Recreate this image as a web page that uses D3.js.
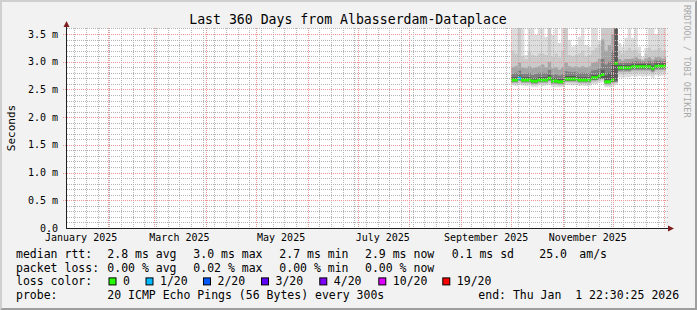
<!DOCTYPE html>
<html>
<head>
<meta charset="utf-8">
<script src="https://cdn.jsdelivr.net/npm/d3@7"></script>
<style>
html, body { margin: 0; padding: 0; background: #f2f2f2; }
svg { display: block; }
text { font-family: "DejaVu Sans Mono", monospace; white-space: pre; }
</style>
</head>
<body>
<div id="chart"></div>
<script>
// ---- data (values in milliseconds) ----
const title = "Last 360 Days from Albasserdam-Dataplace";
const rangeStart = new Date(2025, 0, 6, 22, 30, 25);
const rangeEnd = new Date(2026, 0, 1, 22, 30, 25);
const dataStart = new Date(2025, 9, 1);   // first sample bin
const binDays = 2;                        // each bin covers two days
const yMax = 3.608;
const yMajor = [0.5, 1.0, 1.5, 2.0, 2.5, 3.0, 3.5];
const yLabels = ["0.0", "0.5 m", "1.0 m", "1.5 m", "2.0 m", "2.5 m", "3.0 m", "3.5 m"];
const xLabelMonths = ["January 2025", "March 2025", "May 2025", "July 2025", "September 2025", "November 2025"];

const median = [2.67, 2.67, 2.70, 2.67, 2.67, 2.67, 2.65, 2.65, 2.67, 2.67, 2.67, 2.70, 2.65, 2.65, 2.64, 2.64,
  2.69, 2.69, 2.69, 2.69, 2.67, 2.67, 2.67, 2.67, 2.71, 2.71, 2.74, 2.77, 2.64, 2.64, 2.67, 2.97,
  2.89, 2.89, 2.89, 2.89, 2.91, 2.91, 2.91, 2.91, 2.91, 2.91, 2.88, 2.92, 2.92, 2.92, 2.92];
// sorted pings of the 20 per round: lowest ... highest
const ping1 = [2.57, 2.56, 2.58, 2.57, 2.56, 2.57, 2.55, 2.55, 2.57, 2.56, 2.57, 2.58, 2.55, 2.55, 2.54, 2.55,
  2.58, 2.58, 2.57, 2.58, 2.56, 2.57, 2.56, 2.57, 2.60, 2.60, 2.62, 2.63, 2.54, 2.54, 2.56, 2.58,
  2.72, 2.71, 2.72, 2.72, 2.74, 2.73, 2.74, 2.73, 2.74, 2.74, 2.71, 2.75, 2.74, 2.75, 2.75];
const ping2 = [2.60, 2.60, 2.62, 2.60, 2.60, 2.60, 2.58, 2.58, 2.60, 2.60, 2.60, 2.62, 2.58, 2.58, 2.57, 2.57,
  2.62, 2.62, 2.61, 2.62, 2.60, 2.60, 2.60, 2.60, 2.63, 2.63, 2.66, 2.67, 2.57, 2.57, 2.59, 2.61,
  2.78, 2.77, 2.78, 2.78, 2.80, 2.79, 2.80, 2.79, 2.80, 2.80, 2.77, 2.81, 2.80, 2.81, 2.81];
const ping4 = [2.62, 2.62, 2.65, 2.62, 2.62, 2.62, 2.60, 2.60, 2.62, 2.62, 2.62, 2.65, 2.60, 2.60, 2.59, 2.59,
  2.64, 2.64, 2.64, 2.64, 2.62, 2.62, 2.62, 2.62, 2.66, 2.66, 2.68, 2.69, 2.59, 2.59, 2.62, 2.63,
  2.82, 2.82, 2.82, 2.82, 2.84, 2.84, 2.84, 2.84, 2.84, 2.84, 2.81, 2.85, 2.85, 2.85, 2.85];
const ping6 = [2.64, 2.64, 2.66, 2.64, 2.64, 2.64, 2.62, 2.62, 2.64, 2.64, 2.64, 2.66, 2.62, 2.62, 2.61, 2.61,
  2.65, 2.65, 2.65, 2.65, 2.64, 2.64, 2.64, 2.64, 2.67, 2.67, 2.69, 2.70, 2.61, 2.61, 2.63, 2.64,
  2.84, 2.84, 2.84, 2.84, 2.86, 2.86, 2.86, 2.86, 2.86, 2.86, 2.83, 2.87, 2.87, 2.87, 2.87];
const ping8 = [2.65, 2.65, 2.67, 2.65, 2.65, 2.65, 2.63, 2.63, 2.65, 2.65, 2.65, 2.67, 2.63, 2.63, 2.62, 2.62,
  2.66, 2.66, 2.66, 2.66, 2.65, 2.65, 2.65, 2.65, 2.68, 2.68, 2.70, 2.70, 2.62, 2.62, 2.64, 2.66,
  2.86, 2.86, 2.86, 2.86, 2.88, 2.88, 2.88, 2.88, 2.88, 2.88, 2.85, 2.89, 2.89, 2.89, 2.89];
const ping13 = [2.72, 2.72, 2.75, 2.72, 2.72, 2.72, 2.70, 2.70, 2.72, 2.72, 2.72, 2.76, 2.70, 2.70, 2.69, 2.69,
  2.74, 2.74, 2.74, 2.74, 2.72, 2.72, 2.72, 2.72, 2.76, 2.76, 2.79, 2.85, 2.75, 2.80, 2.95, 3.90,
  2.94, 2.94, 2.94, 2.94, 2.96, 2.96, 2.96, 2.96, 2.96, 2.96, 2.93, 2.97, 2.97, 2.97, 2.97];
const ping15 = [2.78, 2.80, 2.84, 2.78, 2.78, 2.80, 2.76, 2.78, 2.80, 2.80, 2.79, 2.85, 2.76, 2.77, 2.75, 2.77,
  2.83, 2.82, 2.81, 2.82, 2.79, 2.80, 2.79, 2.80, 2.84, 2.85, 2.88, 3.05, 2.95, 3.00, 3.20, 3.90,
  2.98, 2.97, 2.98, 2.98, 3.00, 3.01, 3.00, 2.99, 3.00, 3.01, 2.98, 3.02, 3.02, 3.01, 3.02];
const ping17 = [2.90, 2.92, 2.98, 2.90, 2.88, 2.92, 2.88, 2.90, 2.92, 2.95, 2.90, 3.00, 2.88, 2.90, 2.86, 2.90,
  2.98, 2.92, 2.90, 2.92, 2.90, 2.92, 2.90, 2.92, 2.98, 3.00, 3.05, 3.40, 3.20, 3.30, 3.50, 3.90,
  3.05, 3.02, 3.05, 3.05, 3.06, 3.08, 3.05, 3.02, 3.06, 3.08, 3.04, 3.08, 3.08, 3.06, 3.08];
const ping19 = [3.20, 3.15, 3.90, 3.10, 3.05, 3.18, 3.12, 3.10, 3.15, 3.15, 3.12, 3.90, 3.10, 3.15, 3.08, 3.20,
  3.90, 3.12, 3.10, 3.12, 3.15, 3.20, 3.10, 3.12, 3.20, 3.25, 3.30, 3.90, 3.90, 3.90, 3.90, 3.90,
  3.20, 3.15, 3.20, 3.25, 3.20, 3.22, 3.15, 3.05, 3.15, 3.25, 3.20, 3.22, 3.25, 3.20, 3.22];
const ping20 = [3.90, 3.90, 3.90, 3.90, 3.12, 3.90, 3.90, 3.48, 3.90, 3.90, 3.45, 3.90, 3.48, 3.90, 3.34, 3.90,
  3.90, 3.39, 3.27, 3.30, 3.45, 3.90, 3.30, 3.27, 3.90, 3.90, 3.39, 3.90, 3.90, 3.90, 3.90, 3.90,
  3.34, 3.27, 3.43, 3.90, 3.43, 3.90, 3.27, 3.09, 3.25, 3.90, 3.90, 3.50, 3.90, 3.90, 3.90];
const lossCount = [0, 0, 1, 0, 0, 0, 0, 0, 0, 0, 0, 0, 0, 0, 0, 0, 0, 0, 0, 0, 0, 0, 0, 0,
  0, 0, 0, 0, 0, 0, 0, 0, 0, 0, 0, 0, 0, 0, 0, 0, 0, 0, 0, 0, 0, 0, 0];

const lossLevels = [0, 1, 2, 3, 4, 10, 19];
const lossLabels = ["0", "1/20", "2/20", "3/20", "4/20", "10/20", "19/20"];
const lossColors = ["#26ff00", "#00b8ff", "#0059ff", "#5e00ff", "#7e00ff", "#dd00ff", "#ff0000"];

const statRtt = ["2.8 ms avg", "3.0 ms max", "2.7 ms min", "2.9 ms now", "0.1 ms sd", "25.0", "am/s"];
const statLoss = ["0.00 % avg", "0.02 % max", "0.00 % min", "0.00 % now"];
const probeText = "20 ICMP Echo Pings (56 Bytes) every 300s";
const endText = "end: Thu Jan  1 22:30:25 2026";

// ---- layout ----
const W = 697, H = 310;
const plot = { left: 66, right: 666, top: 28, bottom: 228 };
const statX = [107.3, 193.3, 279.3, 365, 451.7, 539.3, 579.3];
const boxX = [108.5, 145.5, 203, 261, 319.3, 378.3, 442.3];
const rowY = [258, 271.7, 285.4, 299];

const svg = d3.select("#chart").append("svg").attr("width", W).attr("height", H);
svg.append("rect").attr("width", W).attr("height", H).attr("fill", "#f2f2f2");
svg.append("path").attr("d", `M0,0H${W}L${W - 2},2H2V${H - 2}L0,${H}Z`).attr("fill", "#cfcfcf");
svg.append("path").attr("d", `M${W},0V${H}H0L2,${H - 2}H${W - 2}V2Z`).attr("fill", "#9e9e9e");
svg.append("rect").attr("x", plot.left).attr("y", plot.top)
  .attr("width", plot.right - plot.left).attr("height", plot.bottom - plot.top).attr("fill", "#ffffff");

const x = d3.scaleTime().domain([rangeStart, rangeEnd]).range([plot.left, plot.right]);
const y = d3.scaleLinear().domain([0, yMax]).range([plot.bottom, plot.top]);

svg.append("defs").append("clipPath").attr("id", "clip")
  .append("rect").attr("x", plot.left + 1).attr("y", plot.top)
  .attr("width", plot.right - plot.left - 1).attr("height", plot.bottom - plot.top);

// bins plus a closing point so the last step is drawn
const bins = median.map((m, i) => ({ t: d3.timeDay.offset(dataStart, binDays * i), i: i }));
const steps = bins.concat([{ t: d3.timeDay.offset(dataStart, binDays * median.length), i: median.length - 1 }]);

const g = svg.append("g").attr("clip-path", "url(#clip)");
const layers = [
  [ping1, ping20, "#dddddd"],
  [ping2, ping19, "#cacaca"],
  [ping4, ping17, "#a4a4a4"],
  [ping6, ping15, "#7e7e7e"],
  [ping8, ping13, "#585858"]
];
for (const [lo, hi, col] of layers) {
  g.append("path")
    .datum(steps)
    .attr("fill", col)
    .attr("d", d3.area()
      .curve(d3.curveStepAfter)
      .x(d => x(d.t))
      .y0(d => y(lo[d.i]))
      .y1(d => y(hi[d.i])));
}

// median band, coloured by loss
function lossColor(n) {
  let c = lossColors[0];
  lossLevels.forEach((lv, k) => { if (n >= lv && (k === 0 || n > lossLevels[k - 1])) c = lossColors[k]; });
  return c;
}
g.append("path")
  .datum(steps)
  .attr("fill", lossColors[0])
  .attr("d", d3.area()
    .curve(d3.curveStepAfter)
    .x(d => x(d.t))
    .y0(d => y(median[d.i]) + 1.5)
    .y1(d => y(median[d.i]) - 1.5));
g.selectAll("rect.loss")
  .data(bins.filter(d => lossCount[d.i] > 0))
  .join("rect")
  .attr("class", "loss")
  .attr("x", d => x(d.t))
  .attr("width", d => x(d3.timeDay.offset(d.t, binDays)) - x(d.t))
  .attr("y", d => y(median[d.i]) - 1.5)
  .attr("height", 3)
  .attr("fill", d => lossColor(lossCount[d.i]));

// grid (drawn over the data like rrdtool)
const minorColor = "#b4b4b4", majorColor = "#ef9696";
const minorY = d3.range(1, 37).map(k => k / 10).filter(v => Math.round(v * 10) % 5 !== 0 && v <= yMax);
const weeks = x.ticks(d3.timeWeek.every(1));
const months = x.ticks(d3.timeMonth.every(1));

// build dotted grid as one path per colour: 1px dashes every other pixel
function vDots(xs, y0, y1) {
  let d = "";
  for (const xv of xs) {
    const px = Math.round(x(xv));
    for (let py = y0; py < y1; py += 2) d += `M${px},${py}h1v1h-1z`;
  }
  return d;
}
function hDots(ys, x0, x1) {
  let d = "";
  for (const yv of ys) {
    const py = Math.round(y(yv));
    for (let px = x0; px < x1; px += 2) d += `M${px},${py}h1v1h-1z`;
  }
  return d;
}
const grid = svg.append("g").attr("shape-rendering", "crispEdges");
grid.append("path").attr("fill", minorColor).attr("d", hDots(minorY, plot.left + 1, plot.right + 2));
grid.append("path").attr("fill", minorColor).attr("d", vDots(weeks, plot.top, plot.bottom));
grid.append("path").attr("fill", majorColor).attr("d", hDots(yMajor, plot.left - 3, plot.right + 2));
grid.append("path").attr("fill", majorColor).attr("d", vDots(months, plot.top, plot.bottom + 2));

// axes
const axis = svg.append("g").attr("shape-rendering", "crispEdges");
axis.append("line").attr("x1", plot.left + 0.5).attr("x2", plot.left + 0.5)
  .attr("y1", plot.bottom + 1).attr("y2", plot.top - 4).attr("stroke", "#1f1f1f");
axis.append("line").attr("x1", plot.left).attr("x2", plot.right + 3)
  .attr("y1", plot.bottom + 0.5).attr("y2", plot.bottom + 0.5).attr("stroke", "#1f1f1f");
svg.append("path").attr("fill", "#801f1f")
  .attr("d", `M${plot.left + 0.5},${plot.top - 7}L${plot.left + 3.5},${plot.top - 1}H${plot.left - 2.5}Z`);
svg.append("path").attr("fill", "#801f1f")
  .attr("d", `M${plot.right + 8},${plot.bottom + 0.5}L${plot.right + 2},${plot.bottom - 2.5}V${plot.bottom + 3.5}Z`);

// y tick labels
svg.selectAll("text.ylab").data([0].concat(yMajor)).join("text")
  .attr("class", "ylab")
  .attr("x", 58).attr("y", d => y(d) + 3.6)
  .attr("text-anchor", "end").attr("font-size", "10px").attr("fill", "#000")
  .text((d, i) => yLabels[i]);

// x labels, placed mid-month every second month
const labelMonths = d3.timeMonth.every(2).range(new Date(2025, 0, 1), rangeEnd);
svg.selectAll("text.xlab").data(labelMonths).join("text")
  .attr("class", "xlab")
  .attr("x", d => x(d3.timeDay.offset(d, 15))).attr("y", 241)
  .attr("text-anchor", "middle").attr("font-size", "10px").attr("fill", "#000")
  .text((d, i) => xLabelMonths[i]);

// titles
svg.append("text").attr("x", 348).attr("y", 24).attr("text-anchor", "middle")
  .attr("font-size", "13.2px").attr("fill", "#000").text(title);
svg.append("text").attr("transform", `translate(14.5,${(plot.top + plot.bottom) / 2}) rotate(-90)`)
  .attr("text-anchor", "middle").attr("font-size", "11px").attr("fill", "#000").text("Seconds");
svg.append("text").attr("transform", "translate(684,5) rotate(90)")
  .attr("font-size", "8.5px").attr("fill", "#a9a9a9").text("RRDTOOL / TOBI OETIKER");

// legend
const leg = svg.append("g").attr("font-size", "11.5px").attr("fill", "#000");
leg.append("text").attr("x", 16).attr("y", rowY[0]).text("median rtt:");
statRtt.forEach((s, i) => leg.append("text").attr("x", statX[i]).attr("y", rowY[0]).text(s));
leg.append("text").attr("x", 16).attr("y", rowY[1]).text("packet loss:");
statLoss.forEach((s, i) => leg.append("text").attr("x", statX[i]).attr("y", rowY[1]).text(s));
leg.append("text").attr("x", 16).attr("y", rowY[2]).text("loss color:");
lossLabels.forEach((s, i) => {
  leg.append("rect").attr("x", boxX[i] + 0.5).attr("y", rowY[2] - 7.5).attr("width", 7).attr("height", 7)
    .attr("fill", lossColors[i]).attr("stroke", "#000").attr("stroke-width", 1);
  leg.append("text").attr("x", boxX[i] + 14.5).attr("y", rowY[2]).text(s);
});
leg.append("text").attr("x", 16).attr("y", rowY[3]).text("probe:");
leg.append("text").attr("x", statX[0]).attr("y", rowY[3]).text(probeText);
leg.append("text").attr("x", 478.3).attr("y", rowY[3]).text(endText);
</script>
</body>
</html>
